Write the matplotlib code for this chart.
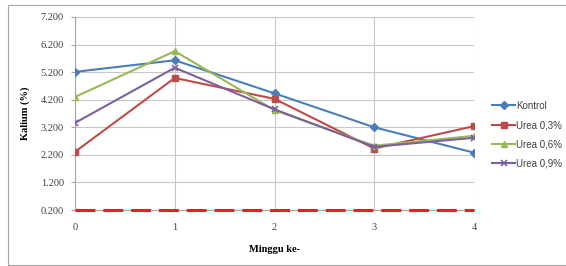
import matplotlib
matplotlib.use("Agg")
import matplotlib.pyplot as plt
from matplotlib.patches import Rectangle
from matplotlib.ticker import FormatStrFormatter

weeks = [0, 1, 2, 3, 4]
kontrol = [5.21, 5.63, 4.43, 3.20, 2.28]
urea03 = [2.31, 4.99, 4.23, 2.43, 3.24]
urea06 = [4.30, 5.96, 3.82, 2.53, 2.89]
urea09 = [3.36, 5.36, 3.85, 2.49, 2.82]
baseline = [0.2, 0.2, 0.2, 0.2, 0.2]
yticks = [0.2, 1.2, 2.2, 3.2, 4.2, 5.2, 6.2, 7.2]

W, H = 566, 266
fig = plt.figure(figsize=(W / 100, H / 100), dpi=100)
fig.patch.set_facecolor("white")
fig.patches.append(Rectangle((8 / W, 1 / H), 1.0, (260) / H, transform=fig.transFigure,
                             fill=False, edgecolor="#A6A6A6", linewidth=0.8))

ax = fig.add_axes([75 / W, (H - 210) / H, (474 - 75) / W, (210 - 17) / H])
serif = "Liberation Serif"

ax.plot(weeks, baseline, color="#EC1C24", lw=2.2, ls=(0, (6.5, 2.6)), zorder=4, clip_on=False)
ax.plot(weeks, kontrol, color="#4A7EBB", lw=1.5, marker="D", ms=4, label="Kontrol", zorder=3)
ax.plot(weeks, urea03, color="#BE4B48", lw=1.5, marker="s", ms=5, label="Urea 0,3%", zorder=3)
ax.plot(weeks, urea06, color="#98B954", lw=1.5, marker="^", ms=5, label="Urea 0,6%", zorder=3)
ax.plot(weeks, urea09, color="#7D60A0", lw=1.5, marker="x", ms=5, mew=1.2, label="Urea 0,9%", zorder=3)

ax.set_xlim(0, 4)
ax.set_ylim(0.2, 7.2)
ax.set_xticks(weeks)
ax.set_yticks(yticks)
ax.yaxis.set_major_formatter(FormatStrFormatter("%.3f"))
ax.grid(True, color="#C8C8C8", lw=0.8)
ax.set_axisbelow(True)
for s in ["top", "right"]:
    ax.spines[s].set_visible(False)
for s in ["left", "bottom"]:
    ax.spines[s].set_color("#A6A6A6")
    ax.spines[s].set_linewidth(0.8)
ax.tick_params(axis="y", length=3, color="#A6A6A6", labelsize=7.5, pad=5, labelcolor="#404040")
ax.tick_params(axis="x", length=0, labelsize=7.5, pad=9, labelcolor="#404040")
for lab in ax.get_xticklabels() + ax.get_yticklabels():
    lab.set_fontfamily(serif)

ax.set_ylabel("Kalium (%)", fontfamily=serif, fontweight="bold", fontsize=7.5, labelpad=8)
ax.set_xlabel("Minggu ke-", fontfamily=serif, fontweight="bold", fontsize=7.5, labelpad=10)

leg = ax.legend(loc="center left", bbox_to_anchor=(1.035, 0.39), frameon=False,
                prop={"family": "Liberation Sans", "size": 7}, handlelength=2.4,
                handletextpad=0.1, labelspacing=0.95, borderaxespad=0)
for t in leg.get_texts():
    t.set_color("#404040")

fig.savefig("out.png", dpi=100, facecolor="white")
